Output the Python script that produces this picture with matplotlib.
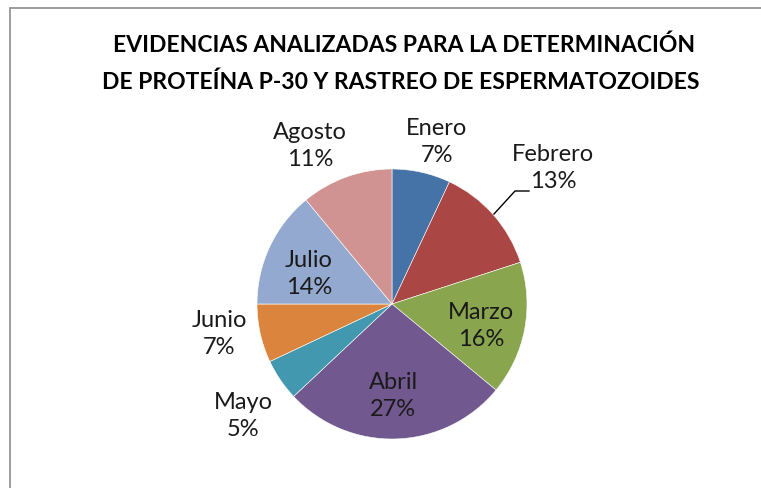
import matplotlib.pyplot as plt
from matplotlib.patches import Rectangle

# Evidencias analizadas por mes (porcentaje)
meses = ['Enero', 'Febrero', 'Marzo', 'Abril', 'Mayo', 'Junio', 'Julio', 'Agosto']
porcentajes = [7, 13, 16, 27, 5, 7, 14, 11]
colores = ['#4572A7', '#AA4643', '#89A54E', '#71588F', '#4198AF', '#DB843D', '#93A9CF', '#D19392']

# posiciones de las etiquetas (pixeles de la imagen)
pos_etiquetas = [(437, 142), (553, 168), (481, 326), (393, 396),
                 (243, 416), (219, 334), (309, 274), (310, 146)]

plt.rcParams['font.family'] = ['Lato', 'DejaVu Sans']

W, H = 761, 488
fig = plt.figure(figsize=(W / 100, H / 100), dpi=100)
fig.patches.append(Rectangle((10 / W, -0.1), 1.2, 1 - 8 / H + 0.1, transform=fig.transFigure,
                             fill=False, edgecolor='#8c8c8c', linewidth=1.2))

cx, cy, r = 392, 304, 135
ax = fig.add_axes([(cx - r) / W, 1 - (cy + r) / H, 2 * r / W, 2 * r / H])
ax.pie(porcentajes, colors=colores, startangle=90, counterclock=False,
       wedgeprops=dict(edgecolor='white', linewidth=0.4))
ax.set_aspect('auto')
ax.set_xlim(-1, 1)
ax.set_ylim(-1, 1)

for mes, p, (x, y) in zip(meses, porcentajes, pos_etiquetas):
    fig.text(x / W, 1 - y / H, f'{mes}\n{p}%', ha='center', va='center',
             fontsize=17, color='#1a1a1a', linespacing=1.4)

# linea guia de Febrero
fig.add_artist(plt.Line2D([494 / W, 515 / W, 529 / W], [1 - 214 / H, 1 - 191 / H, 1 - 191 / H],
                          color='black', linewidth=1))

fig.text(404 / W, 1 - 45 / H, 'EVIDENCIAS ANALIZADAS PARA LA DETERMINACIÓN',
         ha='center', va='center', fontsize=16.5, fontweight='bold')
fig.text(401 / W, 1 - 82 / H, 'DE PROTEÍNA P-30 Y RASTREO DE ESPERMATOZOIDES',
         ha='center', va='center', fontsize=16.5, fontweight='bold')

fig.savefig('out.png', dpi=100)
plt.close()
